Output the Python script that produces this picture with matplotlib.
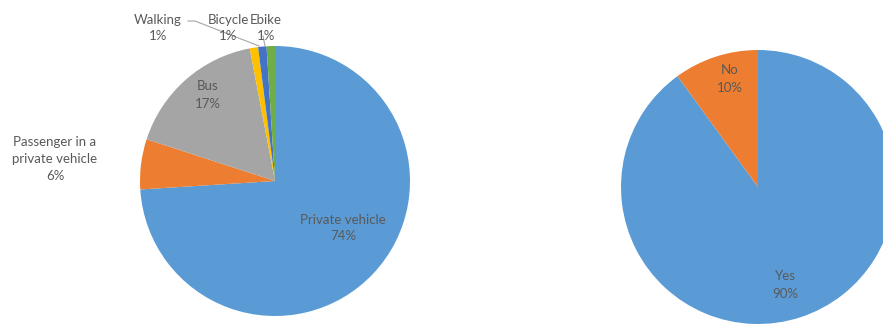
import matplotlib.pyplot as plt

plt.rcParams['font.family'] = ['Lato', 'DejaVu Sans']

# commute mode shares
modes = ['Private vehicle', 'Passenger in a\nprivate vehicle', 'Bus', 'Walking', 'Bicycle', 'Ebike']
mode_pct = [74, 6, 17, 1, 1, 1]
mode_colors = ['#5B9BD5', '#ED7D31', '#A5A5A5', '#FFC000', '#4472C4', '#70AD47']

# yes / no answers
answers = ['Yes', 'No']
answer_pct = [90, 10]
answer_colors = ['#5B9BD5', '#ED7D31']

W, H = 883, 324
fig = plt.figure(figsize=(W / 100, H / 100), dpi=100)
ax = fig.add_axes([0, 0, 1, 1])

ax.pie(mode_pct, colors=mode_colors, startangle=90, counterclock=False,
       center=(275, H - 181), radius=135, wedgeprops=dict(linewidth=0))
ax.pie(answer_pct, colors=answer_colors, startangle=90, counterclock=False,
       center=(758, H - 187), radius=137, wedgeprops=dict(linewidth=0))

ax.set_xlim(0, W)
ax.set_ylim(0, H)
ax.set_aspect('equal')
ax.axis('off')

txt = dict(ha='center', va='center', fontsize=9.5, color='#595959', linespacing=1.5)

# left pie labels (pixel positions measured from top)
ax.text(343, H - 228, f'{modes[0]}\n{mode_pct[0]}%', **txt)
ax.text(55, H - 159, f'{modes[1]}\n{mode_pct[1]}%', **txt)
ax.text(208, H - 95, f'{modes[2]}\n{mode_pct[2]}%', **txt)
ax.text(158, H - 28, f'{modes[3]}\n{mode_pct[3]}%', **txt)
ax.text(228, H - 28, f'{modes[4]}\n{mode_pct[4]}%', **txt)
ax.text(266, H - 28, f'{modes[5]}\n{mode_pct[5]}%', **txt)

# leader lines to the thin slices
ax.plot([188, 195, 259], [H - 21, H - 21, H - 46], color='#A6A6A6', lw=0.8)
ax.plot([263, 265], [H - 36, H - 46], color='#A6A6A6', lw=0.8)

# right pie labels
ax.text(730, H - 79, f'{answers[1]}\n{answer_pct[1]}%', **txt)
ax.text(785, H - 285, f'{answers[0]}\n{answer_pct[0]}%', **txt)

fig.savefig('out.png', dpi=100)
